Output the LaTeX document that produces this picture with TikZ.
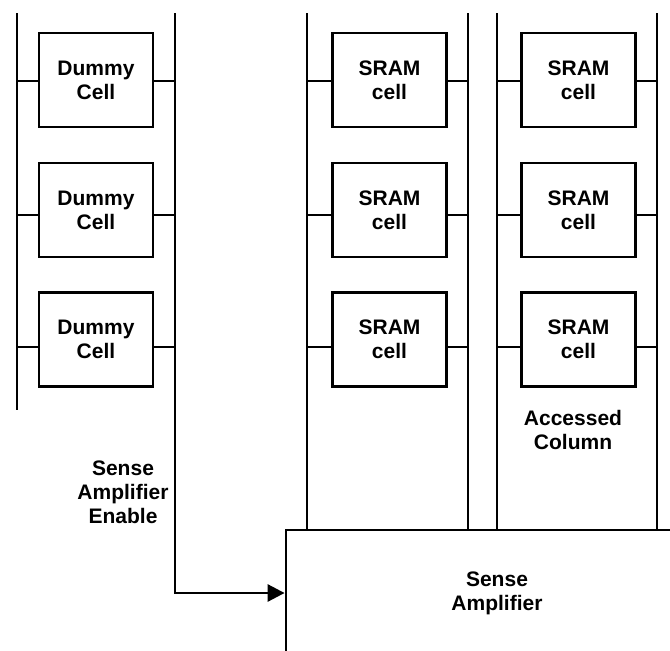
\documentclass[tikz,border=0pt]{standalone}
\usepackage{fontspec}
\setmainfont{Liberation Sans}
\usetikzlibrary{arrows.meta}
\begin{document}
\begin{tikzpicture}[x=1pt,y=-1pt,line width=2.8pt,
  txt/.style={align=center,inner sep=0pt,font=\bfseries\fontsize{21}{24}\selectfont},
  cell/.style={txt,draw,minimum width=114pt,minimum height=94pt},
  amp/.style={txt,draw,minimum width=422pt,minimum height=126pt},
  sig/.style={-{Triangle[length=17pt,width=17pt]}}]
\useasboundingbox (0,0) rectangle (670,651);
\clip (0,0) rectangle (670,651);

% bit lines (top ends)
\coordinate (dl) at (17,13);
\coordinate (dr) at (175,13);
\coordinate (al) at (307,13);
\coordinate (ar) at (468,13);
\coordinate (bl) at (497,13);
\coordinate (br) at (657,13);
\coordinate (dlend) at (17,410);

% sense amplifier
\node[amp] (sa) at (497,593) {Sense\\Amplifier};

% cells and their word-line taps
\foreach \r/\yc/\yw in {1/80/81,2/210/215,3/339.5/347} {
  \coordinate (w\r) at (0,\yw);
  \node[cell] (d\r) at (96,\yc) {Dummy\\Cell};
  \node[cell] (a\r) at (389.5,\yc) {SRAM\\cell};
  \node[cell] (b\r) at (578.5,\yc) {SRAM\\cell};
  \draw (dl |- w\r) -- (d\r.west |- w\r);
  \draw (d\r.east |- w\r) -- (dr |- w\r);
  \draw (al |- w\r) -- (a\r.west |- w\r);
  \draw (a\r.east |- w\r) -- (ar |- w\r);
  \draw (bl |- w\r) -- (b\r.west |- w\r);
  \draw (b\r.east |- w\r) -- (br |- w\r);
}

% dummy column bit lines
\draw (dl) -- (dlend);
\draw[sig] (dr) -- (dr |- sa.west) -- (sa.west);

% SRAM column bit lines into the sense amplifier
\foreach \c in {al,ar,bl,br} \draw (\c) -- (\c |- sa.north);

% labels
\node[txt] (acc) at (573,430) {Accessed\\Column};
\node[txt] (sae) at (123,492) {Sense\\Amplifier\\Enable};
\end{tikzpicture}
\end{document}
